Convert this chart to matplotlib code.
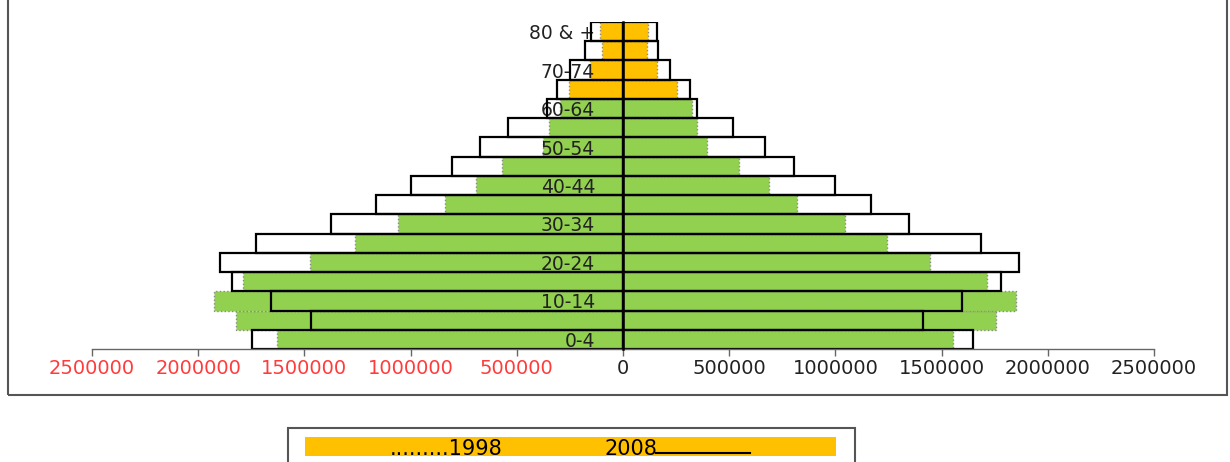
import matplotlib.pyplot as plt
from matplotlib.patches import Rectangle
from matplotlib.lines import Line2D

age_groups = ["0-4", "5-9", "10-14", "15-19", "20-24", "25-29", "30-34",
              "35-39", "40-44", "45-49", "50-54", "55-59", "60-64",
              "65-69", "70-74", "75-79", "80 & +"]

# left side / right side of the pyramid
left_1998 = [1630000, 1822000, 1924000, 1788000, 1474000, 1262000, 1058000,
             838000, 693000, 571000, 375000, 347000, 297000, 253000, 155000,
             100000, 108000]
right_1998 = [1552000, 1756000, 1850000, 1715000, 1445000, 1241000, 1047000,
              821000, 687000, 548000, 395000, 348000, 325000, 256000, 162000,
              112000, 119000]
left_2008 = [1748000, 1470000, 1657000, 1842000, 1897000, 1728000, 1375000,
             1164000, 1000000, 806000, 673000, 543000, 356000, 312000, 250000,
             179000, 152000]
right_2008 = [1649000, 1411000, 1595000, 1778000, 1866000, 1686000, 1348000,
              1166000, 998000, 806000, 669000, 518000, 348000, 315000, 221000,
              166000, 159000]

xticks = [-2500000, -2000000, -1500000, -1000000, -500000, 0,
          500000, 1000000, 1500000, 2000000, 2500000]

W, H = 1230, 462
fig = plt.figure(figsize=(W / 100, H / 100), dpi=100)


def fx(px):
    return px / W


def fy(py):
    return 1 - py / H


ax = fig.add_axes([fx(92), fy(349), fx(1154) - fx(92), fy(22) - fy(349)])

pos = list(range(len(age_groups)))
colors = ["#FFC000" if i >= 13 else "#92D050" for i in pos]

# 1998: filled bars with a dotted grey edge
for vals, sign in [(left_1998, -1), (right_1998, 1)]:
    ax.barh(pos, [sign * v for v in vals], height=1.0, color=colors,
            edgecolor="#8a8a8a", linestyle=":", linewidth=1.0, zorder=1)

# 2008: outlines only, on top
for vals, sign in [(left_2008, -1), (right_2008, 1)]:
    ax.barh(pos, [sign * v for v in vals], height=1.0, fill=False,
            edgecolor="black", linewidth=1.6, zorder=2)

ax.set_xlim(-2500000, 2500000)
ax.set_ylim(-0.5, len(age_groups) - 0.5)

ax.spines["top"].set_visible(False)
ax.spines["right"].set_visible(False)
ax.spines["left"].set_position(("data", 0))
ax.spines["left"].set_linewidth(1.8)
ax.spines["left"].set_zorder(3)
ax.spines["bottom"].set_color("#666666")
ax.spines["bottom"].set_linewidth(1.0)

ax.set_yticks(pos[::2])
ax.set_yticklabels(age_groups[::2], fontsize=13.5, color="#222222")
ax.tick_params(axis="y", length=0, pad=20)

ax.set_xticks(xticks)
ax.set_xticklabels([str(abs(t)) for t in xticks], fontsize=14)
ax.tick_params(axis="x", direction="out", length=5, width=1,
               color="#666666", pad=2)
for t, lab in zip(xticks, ax.get_xticklabels()):
    lab.set_color("#FF3B3B" if t < 0 else "#222222")

# outer frame
fig.add_artist(Rectangle((fx(8), fy(395)), fx(1227) - fx(8), 1.2,
                         transform=fig.transFigure, fill=False,
                         edgecolor="#555555", linewidth=1.5))

# legend box at the bottom
fig.add_artist(Rectangle((fx(288), fy(480)), fx(855) - fx(288), fy(428) - fy(480),
                         transform=fig.transFigure, fill=False,
                         edgecolor="#555555", linewidth=1.5))
fig.add_artist(Rectangle((fx(305), fy(456)), fx(836) - fx(305), fy(437) - fy(456),
                         transform=fig.transFigure, facecolor="#FFC000",
                         edgecolor="none"))
fig.text(fx(390), fy(455), ".........1998", fontsize=15, color="black",
         va="baseline")
fig.text(fx(604), fy(455), "2008", fontsize=15, color="black", va="baseline")
fig.add_artist(Line2D([fx(656), fx(750)], [fy(453), fy(453)],
                      transform=fig.transFigure, color="black", linewidth=1.5))

fig.savefig("out.png", dpi=100)
